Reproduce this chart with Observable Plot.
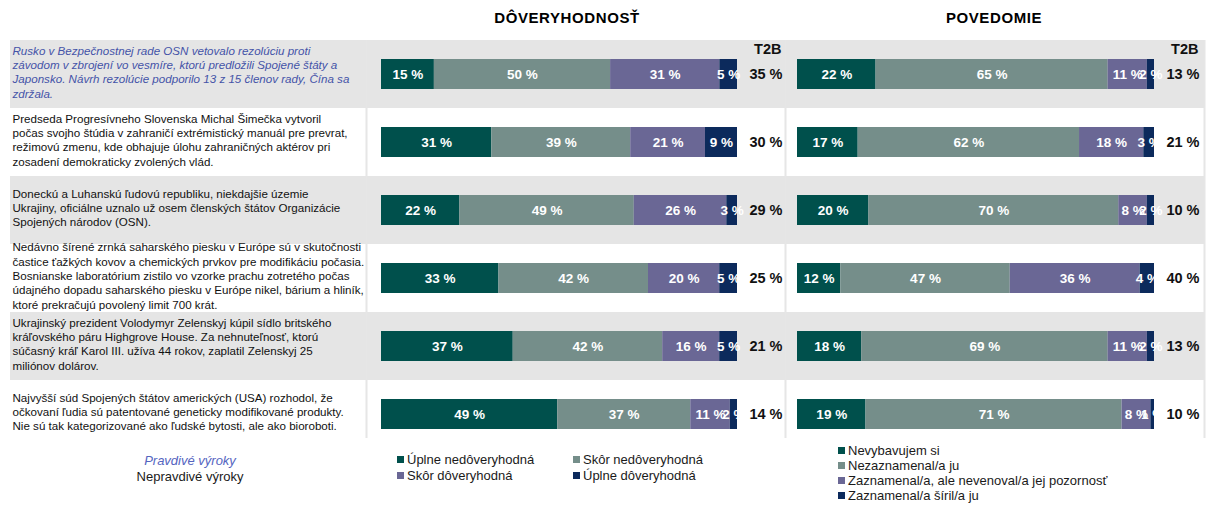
<!DOCTYPE html>
<html><head><meta charset="utf-8">
<script src="https://cdn.jsdelivr.net/npm/d3@7"></script>
<script src="https://cdn.jsdelivr.net/npm/@observablehq/plot@0.6"></script>
<style>
body{margin:0;background:#fff;font-family:"Liberation Sans",Arial,sans-serif;}
#root{position:relative;width:1209px;height:506px;overflow:hidden;background:#fff;}
.abs{position:absolute;}
.title{font-weight:bold;font-size:15px;letter-spacing:0.6px;color:#000;transform:translateX(-50%);white-space:nowrap;}
.leg{font-size:13px;color:#1a1a1a;white-space:nowrap;}
.sw{display:inline-block;width:7px;height:7px;margin-right:3px;vertical-align:1px;}
</style></head><body><div id="root"></div>
<script>
const statements = [
  "Rusko v Bezpečnostnej rade OSN vetovalo rezolúciu proti\nzávodom v zbrojení vo vesmíre, ktorú predložili Spojené štáty a\nJaponsko. Návrh rezolúcie podporilo 13 z 15 členov rady, Čína sa\nzdržala.",
  "Predseda Progresívneho Slovenska Michal Šimečka vytvoril\npočas svojho štúdia v zahraničí extrémistický manuál pre prevrat,\nrežimovú zmenu, kde obhajuje úlohu zahraničných aktérov pri\nzosadení demokraticky zvolených vlád.",
  "Doneckú a Luhanskú ľudovú republiku, niekdajšie územie\nUkrajiny, oficiálne uznalo už osem členských štátov Organizácie\nSpojených národov (OSN).",
  "Nedávno šírené zrnká saharského piesku v Európe sú v skutočnosti\nčastice ťažkých kovov a chemických prvkov pre modifikáciu počasia.\nBosnianske laboratórium zistilo vo vzorke prachu zotretého počas\núdajného dopadu saharského piesku v Európe nikel, bárium a hliník,\nktoré prekračujú povolený limit 700 krát.",
  "Ukrajinský prezident Volodymyr Zelenskyj kúpil sídlo britského\nkráľovského páru Highgrove House. Za nehnuteľnosť, ktorú\nsúčasný kráľ Karol III. užíva 44 rokov, zaplatil Zelenskyj 25\nmiliónov dolárov.",
  "Najvyšší súd Spojených štátov amerických (USA) rozhodol, že\nočkovaní ľudia sú patentované geneticky modifikované produkty.\nNie sú tak kategorizované ako ľudské bytosti, ale ako bioroboti."
];
const isTrue = [true, false, false, false, false, false];

const trustCategories = ["Úplne nedôveryhodná", "Skôr nedôveryhodná", "Skôr dôveryhodná", "Úplne dôveryhodná"];
const trustValues = [[15,50,31,5],[31,39,21,9],[22,49,26,3],[33,42,20,5],[37,42,16,5],[49,37,11,2]];
const trustT2B = [35,30,29,25,21,14];

const awareCategories = ["Nevybavujem si", "Nezaznamenal/a ju", "Zaznamenal/a, ale nevenoval/a jej pozornosť", "Zaznamenal/a šíril/a ju"];
const awareValues = [[22,65,11,2],[17,62,18,3],[20,70,8,2],[12,47,36,4],[18,69,11,2],[19,71,8,1]];
const awareT2B = [13,21,10,40,13,10];

const segmentColors = ["#00504c", "#758e8a", "#6a6795", "#0c2a5c"];
const panelTitles = ["DÔVERYHODNOSŤ", "POVEDOMIE"];
const t2bLabel = "T2B";
const truthLegend = ["Pravdivé výroky", "Nepravdivé výroky"];

const FONT = "Liberation Sans, Arial, sans-serif";
const BAND = "#e5e5e5";
const SEP = "#e6e6e6";
const BLUE = "#4453a8";
const rowIdx = d3.range(statements.length);
const rows = rowIdx.map(i => ({row: i, text: statements[i], isTrue: isTrue[i]}));
const shaded = rows.filter(d => d.row % 2 === 0);

function longData(values, cats) {
  return values.flatMap((vals, row) => vals.map((v, j) => ({row, cat: cats[j], value: v})));
}

function panel({width, marginLeft, marginRight, xRange, cats, values, t2b, withText, sepLeftDx, sepRight}) {
  const long = longData(values, cats);
  const t2bRows = rowIdx.map(i => ({row: i, t2b: t2b[i]}));
  const marks = [
    Plot.cell(shaded, {y: "row", fill: BAND}),
  ];
  if (withText) {
    marks.push(
      Plot.text(rows.filter(d => d.isTrue), {frameAnchor: "left", y: "row", text: "text", textAnchor: "start", lineAnchor: "middle", lineHeight: 1.24, fontSize: 11.6, fontStyle: "italic", fill: BLUE, dx: 2, dy: -3}),
      Plot.text(rows.filter(d => !d.isTrue), {frameAnchor: "left", y: "row", text: "text", textAnchor: "start", lineAnchor: "middle", lineHeight: 1.24, fontSize: 11.6, fill: "#111", dx: 2, dy: -3})
    );
  }
  marks.push(
    Plot.ruleX([0], {dx: sepLeftDx, insetBottom: 10, stroke: SEP, strokeWidth: 2}),
    Plot.barX(long, Plot.stackX({offset: "normalize", x: "value", y: "row", fill: "cat", insetTop: 19, insetBottom: 19})),
    Plot.text(long, Plot.stackX({offset: "normalize", x: "value", y: "row", text: d => d.value + " %", fill: "white", fontWeight: "bold", fontSize: 13.5})),
    Plot.text(t2bRows, {x: () => 1, y: "row", text: d => d.t2b + " %", textAnchor: "end", dx: 45, fontWeight: "bold", fontSize: 14.5, fill: "#111"}),
    Plot.text([t2bLabel], {x: () => 1, y: () => 0, text: d => d, textAnchor: "end", dx: 44, dy: -25, fontWeight: "bold", fontSize: 14.5, fill: "#111"})
  );
  if (sepRight) marks.push(Plot.ruleX([1], {dx: sepRight, insetBottom: 10, stroke: SEP, strokeWidth: 2}));
  return Plot.plot({
    width, height: 448,
    marginLeft, marginRight, marginTop: 40, marginBottom: 0,
    x: {domain: [0, 1], range: xRange, axis: null},
    y: {type: "band", domain: rowIdx, range: [40, 448], padding: 0, axis: null},
    color: {domain: cats, range: segmentColors},
    style: {fontFamily: FONT, background: "transparent", overflow: "visible"},
    marks
  });
}

const root = document.getElementById("root");

const p1 = panel({width: 784, marginLeft: 10, marginRight: 0, xRange: [381, 737], cats: trustCategories, values: trustValues, t2b: trustT2B, withText: true, sepLeftDx: -15});
p1.style.position = "absolute"; p1.style.left = "0px"; p1.style.top = "0px";
root.appendChild(p1);

const p2 = panel({width: 421, marginLeft: 0, marginRight: 0, xRange: [13, 370], cats: awareCategories, values: awareValues, t2b: awareT2B, withText: false, sepLeftDx: -12, sepRight: 50});
p2.style.position = "absolute"; p2.style.left = "784px"; p2.style.top = "0px";
root.appendChild(p2);

// Titles
const titleX = [567, 994];
panelTitles.forEach((t, i) => {
  const el = document.createElement("div");
  el.className = "abs title";
  el.style.left = titleX[i] + "px"; el.style.top = "9px";
  el.textContent = t;
  root.appendChild(el);
});

// Truth legend
const tl = document.createElement("div");
tl.className = "abs leg";
tl.style.left = "190px"; tl.style.top = "453px"; tl.style.transform = "translateX(-50%)"; tl.style.textAlign = "center"; tl.style.lineHeight = "16px";
tl.innerHTML = `<div style="color:#5565bf;font-style:italic">${truthLegend[0]}</div><div>${truthLegend[1]}</div>`;
root.appendChild(tl);

// Trust legend (2 columns)
const lg1 = document.createElement("div");
lg1.className = "abs leg";
lg1.style.left = "397px"; lg1.style.top = "452px";
lg1.style.display = "grid"; lg1.style.gridTemplateColumns = "176px 176px"; lg1.style.lineHeight = "16px";
lg1.innerHTML = trustCategories.map((c, i) => `<div><span class="sw" style="background:${segmentColors[i]}"></span>${c}</div>`).join("");
root.appendChild(lg1);

// Awareness legend (1 column)
const lg2 = document.createElement("div");
lg2.className = "abs leg";
lg2.style.left = "838px"; lg2.style.top = "443px"; lg2.style.lineHeight = "15px";
lg2.innerHTML = awareCategories.map((c, i) => `<div><span class="sw" style="background:${segmentColors[i]}"></span>${c}</div>`).join("");
root.appendChild(lg2);
</script>
</body></html>
